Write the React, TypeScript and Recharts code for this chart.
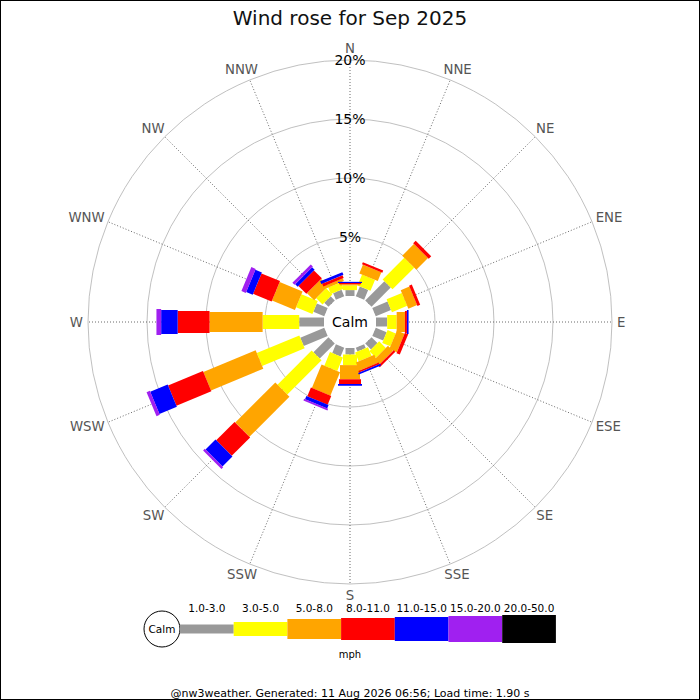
import React from 'react';
import {
  RadialBarChart,
  RadialBar,
  PolarAngleAxis,
  PolarRadiusAxis,
  PolarGrid,
  Customized,
} from 'recharts';

// ---------- data ----------
const DIRECTIONS = ['N', 'NNE', 'NE', 'ENE', 'E', 'ESE', 'SE', 'SSE', 'S', 'SSW', 'SW', 'WSW', 'W', 'WNW', 'NW', 'NNW'];
const SPEED_BINS = ['1.0-3.0', '3.0-5.0', '5.0-8.0', '8.0-11.0', '11.0-15.0', '15.0-20.0', '20.0-50.0'];
const BIN_COLORS = ['#999999', '#ffff00', '#ffa500', '#ff0000', '#0000ff', '#a020f0', '#000000'];
const PCT_TICKS = [5, 10, 15, 20];
const PCT_MAX = 20;
const TITLE = 'Wind rose for Sep 2025';
const UNIT = 'mph';
const CALM_LABEL = 'Calm';
const FOOTER = '@nw3weather. Generated: 11 Aug 2026 06:56; Load time: 1.90 s';

// percentage of time per direction, per speed bin (mph)
//                 N    NNE  NE   ENE  E     ESE   SE   SSE   S     SSW   SW   WSW  W    WNW  NW    NNW
const SPEED_1_3 = [0.5, 0.9, 2.3, 1.4, 0.95, 1.0, 0.7, 0.35, 0.55, 0.8, 1.8, 2.2, 2.1, 1.0, 0.5, 0.6];
const SPEED_3_5 = [0.4, 1.0, 2.6, 1.4, 0.8, 0.75, 0.8, 0.8, 0.9, 1.25, 4.1, 3.9, 3.1, 1.5, 0.75, 0.6];
const SPEED_5_8 = [0.1, 0.8, 1.4, 0.8, 0.7, 0.7, 0.6, 0.75, 1.2, 2.15, 4.8, 4.8, 4.5, 2.1, 0.85, 0.25];
const SPEED_8_11 = [0.1, 0.2, 0.3, 0.25, 0.17, 0.3, 0.2, 0.15, 0.4, 0.8, 2.2, 3.2, 2.7, 1.7, 0.95, 0.25];
const SPEED_11_15 = [0.1, 0, 0, 0, 0.14, 0, 0, 0.15, 0.15, 0.3, 1.2, 1.6, 1.4, 0.6, 0.3, 0.25];
const SPEED_15_20 = [0, 0, 0, 0, 0, 0, 0, 0, 0, 0.15, 0.2, 0.3, 0.4, 0.4, 0.25, 0];
const SPEED_20_50 = [0, 0, 0, 0, 0, 0, 0, 0, 0, 0, 0, 0, 0, 0, 0, 0];

const SERIES = [SPEED_1_3, SPEED_3_5, SPEED_5_8, SPEED_8_11, SPEED_11_15, SPEED_15_20, SPEED_20_50];

const chartData = DIRECTIONS.map((dir, i) => {
  const row: Record<string, any> = { dir };
  SERIES.forEach((s, k) => {
    row['b' + k] = s[i];
  });
  return row;
});

// ---------- layout / style ----------
const W = 700;
const H = 700;
const CX = 350;
const CY = 322;
const R_IN = 26;
const R_OUT = 262;
const SECTOR = 360 / DIRECTIONS.length;
const HALF_SECTOR = SECTOR / 2;
const START_ANGLE = 90 - HALF_SECTOR;
const GRID_ANGLES = DIRECTIONS.map((_, i) => 90 - i * SECTOR);
const BAR_WIDTHS = [9, 14, 20, 22, 24, 26, 28];
const FONT = '"DejaVu Sans", Verdana, sans-serif';

const CHAR_W: Record<string, number> = { N: 0.748, E: 0.632, S: 0.635, W: 0.989 };
const DIR_FONT = 13.3;

const makeShape = (w: number) => (props: any) => {
  const { cx, cy, innerRadius, outerRadius, startAngle, endAngle, fill } = props;
  if (!(outerRadius - innerRadius > 0.01)) return <g />;
  const mid = (((startAngle + endAngle) / 2) * Math.PI) / 180;
  const dx = Math.cos(mid);
  const dy = -Math.sin(mid);
  const px = -dy;
  const py = dx;
  const h = w / 2;
  const p = (r: number, s: number) => `${cx + dx * r + px * h * s},${cy + dy * r + py * h * s}`;
  const pts = [p(innerRadius, 1), p(outerRadius, 1), p(outerRadius, -1), p(innerRadius, -1)].join(' ');
  return <polygon points={pts} fill={fill} stroke="none" />;
};

// category ticks sit at the band start; shift them half a sector to the band centre
const AngleTick = (props: any) => {
  const { x, y, payload } = props;
  const label = String(payload.value);
  const r = Math.sqrt((x - CX) * (x - CX) + (y - CY) * (y - CY));
  const a = Math.atan2(-(y - CY), x - CX) + (HALF_SECTOR * Math.PI) / 180;
  const ux = Math.cos(a);
  const uy = -Math.sin(a);
  const bx = CX + r * ux;
  const by = CY + r * uy;
  const tw = label.split('').reduce((acc, c) => acc + (CHAR_W[c] || 0.7), 0) * DIR_FONT;
  const tx = bx + ux * (tw / 2);
  const ty = by + uy * 6.5;
  return (
    <text x={tx} y={ty} textAnchor="middle" dominantBaseline="central" fontSize={DIR_FONT} fill="#555" fontFamily={FONT}>
      {label}
    </text>
  );
};

const RadiusTick = (props: any) => {
  const { x, y, payload } = props;
  return (
    <text x={x} y={y} textAnchor="middle" dominantBaseline="central" fontSize={14} fill="#000" fontFamily={FONT}>
      {payload.value}%
    </text>
  );
};

const LEG_X0 = 180;
const LEG_SEG = 53.7;
const LEG_Y = 629;
const LEG_CALM_R = 18;

const Decorations = () => (
  <g fontFamily={FONT}>
    <circle cx={CX} cy={CY} r={R_IN - 1.5} fill="#fff" />
    <text x={CX} y={CY} textAnchor="middle" dominantBaseline="central" fontSize={14} fill="#000">
      {CALM_LABEL}
    </text>
    <text x={CX} y={25} textAnchor="middle" fontSize={20} fill="#111">
      {TITLE}
    </text>
    {/* legend */}
    <circle cx={LEG_X0 - LEG_CALM_R} cy={LEG_Y} r={LEG_CALM_R} fill="#fff" stroke="#000" strokeWidth={1} />
    <text x={LEG_X0 - LEG_CALM_R} y={LEG_Y} textAnchor="middle" dominantBaseline="central" fontSize={10.5} fill="#000">
      {CALM_LABEL}
    </text>
    {SPEED_BINS.map((lab, k) => (
      <g key={lab}>
        <rect
          x={LEG_X0 + k * LEG_SEG}
          y={LEG_Y - BAR_WIDTHS[k] / 2}
          width={LEG_SEG}
          height={BAR_WIDTHS[k]}
          fill={BIN_COLORS[k]}
        />
        <text
          x={LEG_X0 + (k + 0.5) * LEG_SEG}
          y={608}
          textAnchor="middle"
          dominantBaseline="central"
          fontSize={10.5}
          fill="#000"
        >
          {lab}
        </text>
      </g>
    ))}
    <text x={CX} y={654} textAnchor="middle" dominantBaseline="central" fontSize={10} fill="#000">
      {UNIT}
    </text>
    <text x={CX} y={693} textAnchor="middle" dominantBaseline="central" fontSize={11} fill="#000">
      {FOOTER}
    </text>
    <rect x={0.5} y={0.5} width={W - 1} height={H - 1} fill="none" stroke="#000" strokeWidth={1} />
  </g>
);

export default function App() {
  return (
    <div style={{ position: 'absolute', left: 0, top: 0, width: W, height: H, background: '#fff' }}>
      <RadialBarChart
        width={W}
        height={H}
        data={chartData}
        layout="centric"
        cx={CX}
        cy={CY}
        innerRadius={R_IN}
        outerRadius={R_OUT}
        startAngle={START_ANGLE}
        endAngle={START_ANGLE - 360}
        margin={{ top: 0, right: 0, bottom: 0, left: 0 }}
        barCategoryGap="10%"
      >
        <PolarGrid gridType="circle" radialLines={false} stroke="#b0b0b0" strokeWidth={0.8} />
        <PolarGrid
          gridType="circle"
          polarRadius={[]}
          polarAngles={GRID_ANGLES}
          stroke="#444"
          strokeWidth={0.8}
          strokeDasharray="1 2"
        />
        <PolarAngleAxis
          type="category"
          dataKey="dir"
          axisLine={false}
          tickLine={false}
          tickSize={5}
          tick={<AngleTick />}
        />
        <PolarRadiusAxis
          type="number"
          domain={[0, PCT_MAX]}
          ticks={PCT_TICKS}
          angle={90}
          axisLine={false}
          tickLine={false}
          tick={<RadiusTick />}
        />
        {SPEED_BINS.map((lab, k) => (
          <RadialBar
            key={lab}
            dataKey={'b' + k}
            name={lab}
            stackId="wind"
            fill={BIN_COLORS[k]}
            shape={makeShape(BAR_WIDTHS[k])}
            isAnimationActive={false}
          />
        ))}
        <Customized component={<Decorations />} />
      </RadialBarChart>
    </div>
  );
}
